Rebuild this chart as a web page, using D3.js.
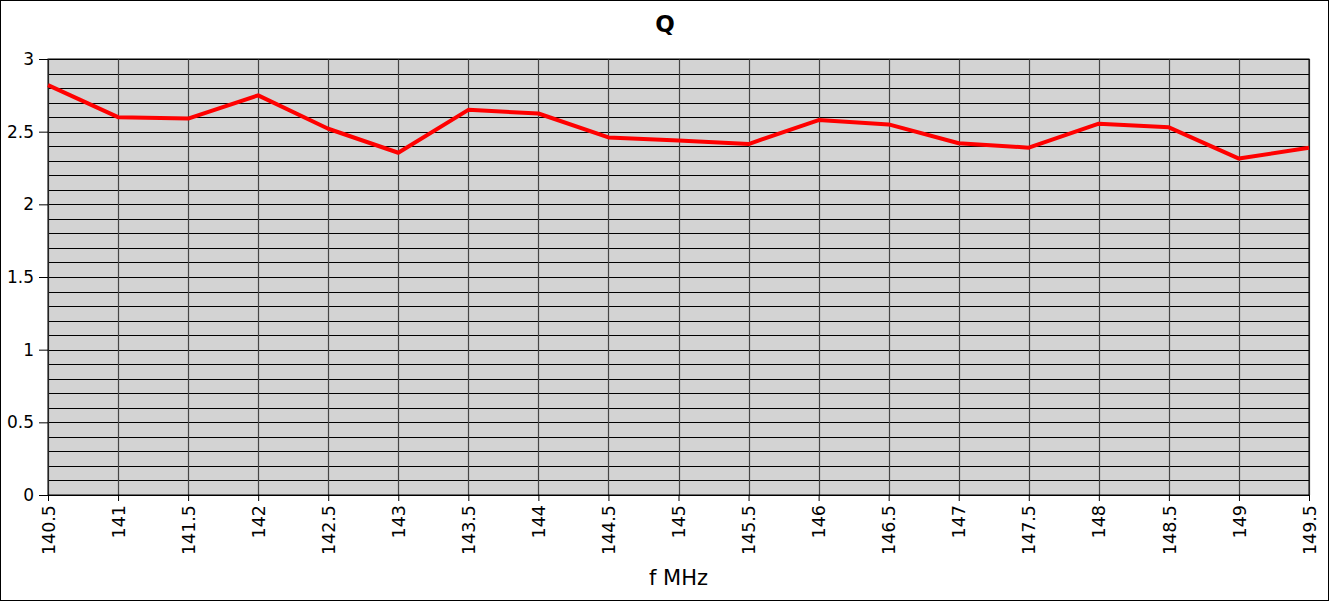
<!DOCTYPE html>
<html>
<head>
<meta charset="utf-8">
<script src="https://cdn.jsdelivr.net/npm/d3@7"></script>
<style>
  body { margin: 0; background: #fff; }
  svg { display: block; font-family: "DejaVu Sans", sans-serif; }
</style>
</head>
<body>
<div class="chart"></div>
<script>
// values
const freqs = [140.5, 141, 141.5, 142, 142.5, 143, 143.5, 144, 144.5, 145,
  145.5, 146, 146.5, 147, 147.5, 148, 148.5, 149, 149.5];
const qValues = [2.82, 2.60, 2.59, 2.75, 2.52, 2.355, 2.65, 2.625, 2.46, 2.44,
  2.415, 2.58, 2.55, 2.42, 2.39, 2.555, 2.53, 2.315, 2.39];
const yTicks = [0, 0.5, 1, 1.5, 2, 2.5, 3];
const yMinor = d3.range(0, 31).map(d => d / 10);

const width = 1329;
const height = 601;
const margin = {t: 59, r: 20, b: 106, l: 48};

const svg = d3.select(".chart").append("svg")
  .attr("width", width)
  .attr("height", height);

// outer frame
svg.append("rect")
  .attr("x", 0.5).attr("y", 0.5)
  .attr("width", width - 1).attr("height", height - 1)
  .attr("fill", "#fff").attr("stroke", "#000");

const x = d3.scaleLinear().domain([140.5, 149.5]).range([margin.l, 1309]);
const y = d3.scaleLinear().domain([0, 3]).range([495, margin.t]);

const plot = svg.append("g").attr("class", "plot");

plot.append("rect")
  .attr("x", x(140.5)).attr("y", y(3))
  .attr("width", x(149.5) - x(140.5)).attr("height", y(0) - y(3))
  .attr("fill", "#d3d3d3");

// horizontal grid every 0.1
plot.append("g").selectAll("line")
  .data(yMinor)
  .join("line")
  .attr("x1", x(140.5)).attr("x2", x(149.5))
  .attr("y1", d => Math.round(y(d)) + 0.5).attr("y2", d => Math.round(y(d)) + 0.5)
  .attr("stroke", "#000").attr("stroke-width", 1);

// vertical grid at each tick
plot.append("g").selectAll("line")
  .data(freqs)
  .join("line")
  .attr("x1", d => Math.round(x(d)) + 0.5).attr("x2", d => Math.round(x(d)) + 0.5)
  .attr("y1", y(3)).attr("y2", y(0))
  .attr("stroke", "#444").attr("stroke-width", 1.2);

plot.append("rect")
  .attr("x", x(140.5)).attr("y", y(3))
  .attr("width", x(149.5) - x(140.5)).attr("height", y(0) - y(3))
  .attr("fill", "none").attr("stroke", "#000");

// axes
const xAxis = svg.append("g")
  .attr("transform", `translate(0, ${y(0)})`)
  .call(d3.axisBottom(x).tickValues(freqs).tickSize(6).tickSizeOuter(0).tickFormat(d3.format("")));
xAxis.select(".domain").remove();
xAxis.selectAll("line").attr("stroke", "#000");
xAxis.selectAll("text")
  .attr("transform", "rotate(-90)")
  .attr("text-anchor", "end")
  .attr("x", -10).attr("y", 0).attr("dy", "0.35em")
  .style("font-size", "17.5px").style("font-family", "DejaVu Sans").attr("fill", "#000");

const yAxis = svg.append("g")
  .attr("transform", `translate(${x(140.5)}, 0)`)
  .call(d3.axisLeft(y).tickValues(yTicks).tickSize(9).tickSizeOuter(0).tickFormat(d3.format("")));
yAxis.select(".domain").remove();
yAxis.selectAll("line").attr("stroke", "#000");
yAxis.selectAll("text")
  .attr("x", -14)
  .style("font-size", "17px").style("font-family", "DejaVu Sans").attr("fill", "#000");

// the line
const line = d3.line()
  .x((d, i) => x(freqs[i]))
  .y(d => y(d));

plot.append("path")
  .datum(qValues)
  .attr("d", line)
  .attr("fill", "none")
  .attr("stroke", "#ff0000")
  .attr("stroke-width", 4)
  .attr("stroke-linejoin", "round");

// titles
svg.append("text")
  .attr("x", 665).attr("y", 32)
  .attr("text-anchor", "middle")
  .style("font-size", "23px").style("font-weight", "bold")
  .text("Q");

svg.append("text")
  .attr("x", (x(140.5) + x(149.5)) / 2).attr("y", 585)
  .attr("text-anchor", "middle")
  .style("font-size", "21px")
  .text("f MHz");
</script>
</body>
</html>
